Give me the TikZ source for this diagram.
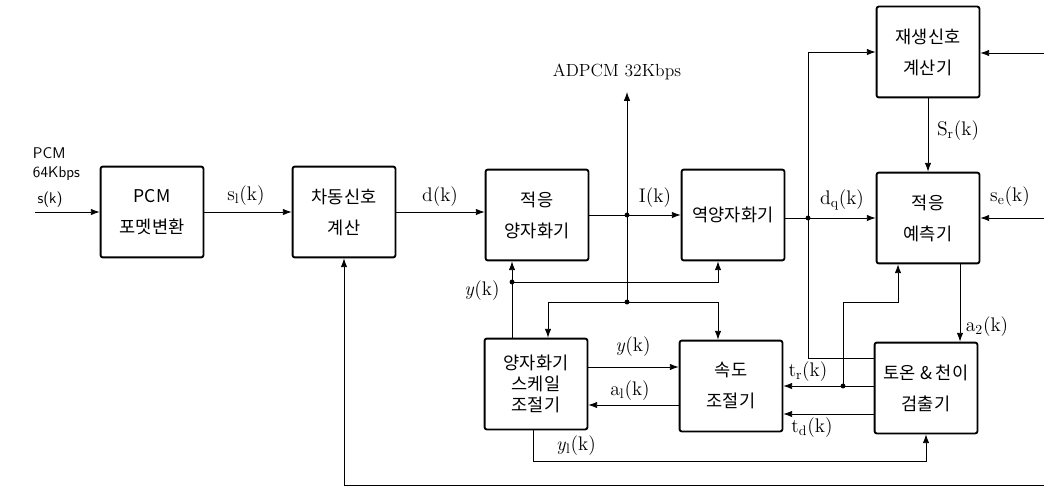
\documentclass[tikz,border=0pt]{standalone}
\usepackage{fontspec}
\newfontfamily\kr{Noto Sans CJK KR}
\usetikzlibrary{arrows.meta,positioning}

\tikzset{
  blk/.style={draw,line width=1.3pt,rounded corners=1.5pt,minimum width=2.57cm,
    minimum height=2.27cm,inner sep=0pt,align=center,
    font=\kr\fontsize{12.5}{22}\selectfont},
  sig/.style={line width=0.6pt},
  arr/.style={sig,-{Latex[length=2.2mm,width=1.6mm]}},
  lbl/.style={inner sep=1pt,font=\fontsize{14}{16}\selectfont},
  dot/.style={circle,fill,inner sep=0pt,minimum size=3.5pt},
}

\begin{document}
\begin{tikzpicture}[x=0.025cm,y=-0.025cm]
  \useasboundingbox (0,0) rectangle (1044,491);

  % blocks
  \node[blk] (pcm) at (152,212) {PCM\\포멧변환};
  \node[blk] (diff) at (344,212) {차동신호\\계산};
  \node[blk] (aq) at (537,215) {적응\\양자화기};
  \node[blk] (iq) at (733,215) {역양자화기};
  \node[blk] (recon) at (928,52) {재생신호\\계산기};
  \node[blk] (pred) at (928,218) {적응\\예측기};
  \node[blk,font=\kr\fontsize{12.5}{15}\selectfont] (scale) at (536,384) {양자화기\\스케일\\조절기};
  \node[blk] (speed) at (731,386) {속도\\조절기};
  \node[blk] (tone) at (926,388) {토온 \& 천이\\검출기};

  % free ends and branch points
  \coordinate (in) at (35,212);
  \coordinate (adp) at (627,92);
  \coordinate (ja) at (627,215);
  \coordinate (jb) at (627,302);
  \coordinate (jd) at (808,218);
  \coordinate (jy) at (512,282);
  \coordinate (jt) at (843,386);
  \coordinate (jp) at (898,302);
  \coordinate (se1) at (1044,53);
  \coordinate (se2) at (1044,218);
  \coordinate (fb) at (1044,485);
  \coordinate (yl) at (533,461);
  \coordinate (a2x) at (960,300);
  \coordinate (sx) at (548,300);
  \coordinate (vx) at (718,300);
  \coordinate (yx) at (718,282);

  % main path
  \draw[arr] (in) -- (pcm);
  \draw[arr] (pcm) -- (diff);
  \draw[arr] (diff.east) -- (diff.east -| aq.west);
  \draw[arr] (aq) -- (iq);
  \draw[arr] (iq.east |- jd) -- (pred);
  \draw[arr] (ja) -- (adp);
  \draw[sig] (ja) -- (jb);
  \draw[arr] (jb) -| (scale.north -| sx);
  \draw[arr] (jb) -| (speed.north -| vx);

  % reconstruction and prediction
  \draw[arr] (jd) |- (recon.west);
  \draw[sig] (jd) |- (tone.west |- 0,358);
  \draw[arr] (se1) -- (recon.east |- se1);
  \draw[arr] (recon) -- (pred);
  \draw[arr] (se2) -- (pred);
  \draw[arr] (fb) -| (diff);
  \draw[arr] (pred.south -| a2x) -- (tone.north -| a2x);

  % scale factor adaptation
  \draw[arr] (scale.north -| jy) -- (aq.south -| jy);
  \draw[arr] (jy) -- (yx) -- (iq.south -| yx);
  \draw[arr] (scale.east |- 0,367) -- (speed.west |- 0,367);
  \draw[arr] (speed.west |- 0,405) -- (scale.east |- 0,405);
  \draw[sig] (scale.south -| yl) -- (yl);
  \draw[arr] (yl) -| (tone.south);
  \draw[arr] (tone.west |- jt) -- (speed.east |- jt);
  \draw[arr] (jt) |- (jp) -- (pred.south -| jp);
  \draw[arr] (tone.west |- 0,414) -- (speed.east |- 0,414);

  \foreach \j in {ja,jb,jd,jy,jt} \node[dot] at (\j) {};

  % labels
  \node[font=\sffamily\fontsize{11}{13}\selectfont,align=left,anchor=west] (lin) at (28,164) {PCM\\64Kbps};
  \node[font=\sffamily\fontsize{11}{13}\selectfont] (lsk) at (50,200) {s(k)};
  \node[lbl] (lsl) at (246,196) {s\textsubscript{l}(k)};
  \node[lbl] (ldk) at (440,197) {d(k)};
  \node[lbl] (lik) at (655,198) {I(k)};
  \node[lbl,font=\fontsize{12.5}{14}\selectfont] (ladp) at (617,72) {ADPCM 32Kbps};
  \node[lbl] (ldq) at (842,200) {d\textsubscript{q}(k)};
  \node[lbl] (lsr) at (958,131) {S\textsubscript{r}(k)};
  \node[lbl] (lse) at (1010,197) {s\textsubscript{e}(k)};
  \node[lbl] (la2) at (987,327) {a\textsubscript{2}(k)};
  \node[lbl] (ly1) at (482,291) {\textit{y}(k)};
  \node[lbl] (ly2) at (633,347) {\textit{y}(k)};
  \node[lbl] (lal) at (630,391) {a\textsubscript{l}(k)};
  \node[lbl] (lyl) at (576,446) {\textit{y}\textsubscript{l}(k)};
  \node[lbl] (ltr) at (808,372) {t\textsubscript{r}(k)};
  \node[lbl] (ltd) at (812,428) {t\textsubscript{d}(k)};
\end{tikzpicture}
\end{document}
